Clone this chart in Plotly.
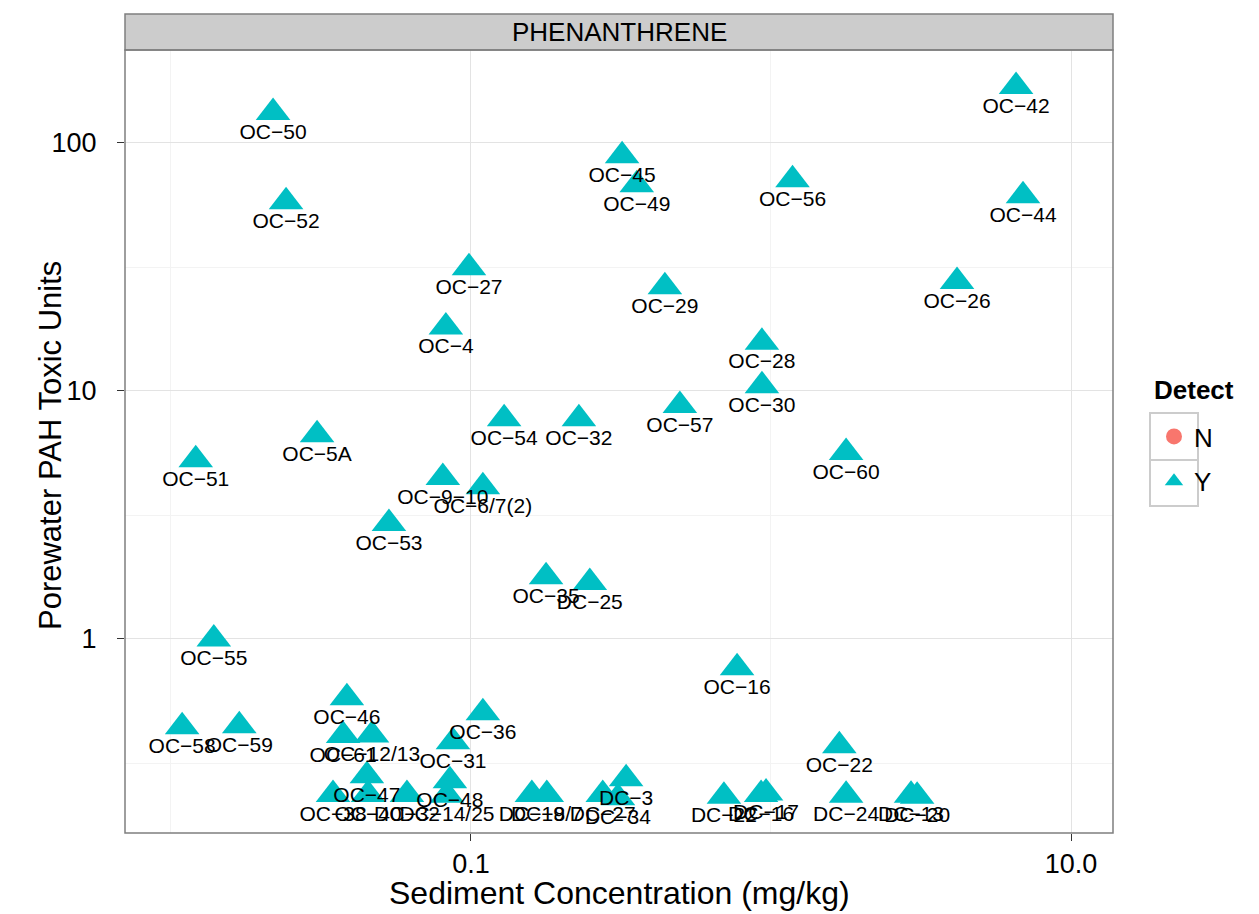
import plotly.graph_objects as go
import math

# ---- data ----
samples = ["OC-50", "OC-52", "OC-42", "OC-44", "OC-45", "OC-49", "OC-56", "OC-27",
           "OC-29", "OC-26", "OC-4", "OC-28", "OC-30", "OC-57", "OC-54", "OC-32",
           "OC-60", "OC-5A", "OC-51", "OC-9-10", "OC-6/7(2)", "OC-53", "OC-35", "DC-25",
           "OC-55", "OC-16", "OC-46", "OC-36", "OC-58", "OC-59", "OC-61", "OC-12/13",
           "OC-31", "OC-22", "OC-47", "OC-48", "OC-38", "OC-40", "DC-32", "DC-14/25",
           "DC-19", "DC-8/7", "DC-27", "DC-34", "DC-3", "DC-22", "DC-16", "DC-17",
           "DC-24", "DC-13", "DC-20"]
sediment_conc = [0.0219, 0.0242, 6.56, 6.92, 0.319, 0.357, 1.18, 0.0985,
                 0.443, 4.17, 0.0825, 0.933, 0.933, 0.497, 0.129, 0.229,
                 1.78, 0.0307, 0.0121, 0.0806, 0.1096, 0.0533, 0.178, 0.249,
                 0.0139, 0.771, 0.0386, 0.1096, 0.0109, 0.0169, 0.0375, 0.0468,
                 0.0871, 1.69, 0.045, 0.0851, 0.0347, 0.0454, 0.0612, 0.0832,
                 0.1596, 0.179, 0.275, 0.309, 0.329, 0.697, 0.927, 0.963,
                 1.78, 2.93, 3.07]
toxic_units = [132.6, 57.9, 168.7, 61.3, 88.8, 67.9, 71.1, 31.4,
               26.3, 27.6, 18.1, 15.7, 10.5, 8.73, 7.73, 7.73,
               5.64, 6.66, 5.28, 4.48, 4.11, 2.92, 1.78, 1.69,
               1.0, 0.765, 0.579, 0.504, 0.443, 0.447, 0.408, 0.41,
               0.385, 0.371, 0.281, 0.268, 0.236, 0.236, 0.236, 0.234,
               0.236, 0.236, 0.236, 0.229, 0.273, 0.232, 0.236, 0.239,
               0.234, 0.234, 0.232]
detect = ["Y"] * len(samples)
detect_levels = ["N", "Y"]

x_tickvals = [0.1, 10]
x_ticktext = ["0.1", "10.0"]
x_minor = [0.01, 1]
y_tickvals = [1, 10, 100]
y_ticktext = ["1", "10", "100"]
y_minor = [0.316, 3.16, 31.6]

facet_title = "PHENANTHRENE"
x_title = "Sediment Concentration (mg/kg)"
y_title = "Porewater PAH Toxic Units"
legend_title = "Detect"

FONT = "Liberation Sans, Arial, sans-serif"
TEAL = "#00BFC4"
SALMON = "#F8766D"

labels = [s.replace("-", "\u2212") for s in samples]

fig = go.Figure()

# N group (no observations in this panel) - legend entry only
fig.add_trace(go.Scatter(x=[None], y=[None], mode="markers", name=detect_levels[0],
                         legendgroup="N",
                         marker=dict(symbol="circle", color=SALMON, size=20)))

xs = [x for x, d in zip(sediment_conc, detect) if d == "Y"]
ys = [y for y, d in zip(toxic_units, detect) if d == "Y"]
ts = [t for t, d in zip(labels, detect) if d == "Y"]
fig.add_trace(go.Scatter(x=xs, y=ys, mode="markers", name=detect_levels[1],
                         legendgroup="Y",
                         marker=dict(symbol="triangle-up", color=TEAL, size=30),
                         cliponaxis=True))
# point labels (text trace; transparent helper markers set the text offset)
fig.add_trace(go.Scatter(x=xs, y=ys, mode="markers+text", text=ts, showlegend=False,
                         textposition="bottom center", hoverinfo="skip",
                         textfont=dict(family=FONT, size=21, color="black"),
                         marker=dict(size=15, color="rgba(0,0,0,0)"),
                         cliponaxis=False))

W, H = 1251, 906
L, T = 117, 42
pw, ph = 988, 783
R = W - L - pw
B = H - T - ph

# helpers to convert reference-screen pixels into paper fractions
def px(xs_):
    return (xs_ - 125) / pw

def py(ys_):
    return (833 - ys_) / ph

grid_major = "#E3E3E3"
grid_minor = "#F3F3F3"

fig.update_layout(
    width=W, height=H,
    margin=dict(l=L, r=R, t=T, b=B),
    paper_bgcolor="white", plot_bgcolor="white",
    font=dict(family=FONT, color="black"),
    xaxis=dict(type="log", range=[-2.153, 1.14], tickvals=x_tickvals, ticktext=x_ticktext,
               showgrid=True, gridcolor=grid_major, gridwidth=1, zeroline=False,
               ticks="outside", ticklen=7, tickcolor="#333333", tickwidth=1,
               ticklabelstandoff=0,
               tickfont=dict(size=27, color="black", family=FONT),
               minor=dict(tickvals=x_minor, showgrid=True, gridcolor=grid_minor, ticks=""),
               showline=False),
    yaxis=dict(type="log", range=[math.log10(0.165), math.log10(237)], tickvals=y_tickvals,
               ticktext=y_ticktext, showgrid=True, gridcolor=grid_major, gridwidth=1,
               zeroline=False, ticks="outside", ticklen=7, tickcolor="#333333", tickwidth=1,
               ticklabelstandoff=15,
               tickfont=dict(size=27, color="black", family=FONT),
               minor=dict(tickvals=y_minor, showgrid=True, gridcolor=grid_minor, ticks=""),
               showline=False),
    legend=dict(x=px(1154), y=py(413), xanchor="left", yanchor="top",
                font=dict(size=26, family=FONT), itemsizing="trace",
                tracegroupgap=8, bgcolor="rgba(0,0,0,0)"),
    showlegend=True,
)

# legend key boxes
for y0, y1 in [(413, 460), (460, 506)]:
    fig.add_shape(type="rect", xref="paper", yref="paper", x0=px(1150), x1=px(1198),
                  y0=py(y1), y1=py(y0), fillcolor="rgba(0,0,0,0)",
                  line=dict(color="#CCCCCC", width=2), layer="below")
fig.add_annotation(xref="paper", yref="paper", x=px(1152), y=py(390), text="<b>%s</b>" % legend_title,
                   showarrow=False, font=dict(size=26, family=FONT, color="black"),
                   xanchor="left", yanchor="middle")

strip_h = 36 / ph
fig.add_shape(type="rect", xref="paper", yref="paper", x0=0, x1=1, y0=1, y1=1 + strip_h,
              fillcolor="#CCCCCC", line=dict(color="#7F7F7F", width=1.5), layer="above")
fig.add_shape(type="rect", xref="paper", yref="paper", x0=0, x1=1, y0=0, y1=1,
              fillcolor="rgba(0,0,0,0)", line=dict(color="#7F7F7F", width=1.5), layer="above")

fig.add_annotation(xref="paper", yref="paper", x=0.5, y=1 + strip_h / 2, text=facet_title,
                   showarrow=False, font=dict(size=26, family=FONT, color="black"),
                   xanchor="center", yanchor="middle")
fig.add_annotation(xref="paper", yref="paper", x=0.5, y=py(893), text=x_title,
                   showarrow=False, font=dict(size=32, family=FONT, color="black"),
                   xanchor="center", yanchor="middle")
fig.add_annotation(xref="paper", yref="paper", x=px(50), y=py(446), text=y_title,
                   textangle=-90, showarrow=False, font=dict(size=31, family=FONT, color="black"),
                   xanchor="center", yanchor="middle")

fig.write_html("out.html")
